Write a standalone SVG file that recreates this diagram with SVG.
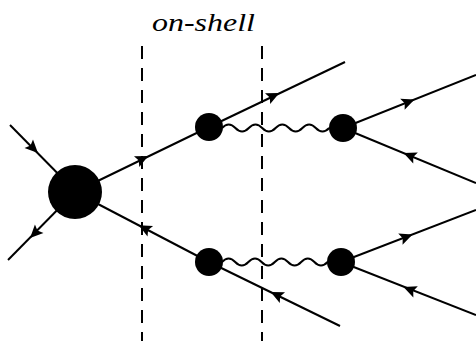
<svg xmlns="http://www.w3.org/2000/svg" xmlns:xlink="http://www.w3.org/1999/xlink" width="476" height="341" viewBox="0 0 476 341">
<style>
.ln{stroke:#000;stroke-width:2;fill:none}
.dash{stroke:#000;stroke-width:2;fill:none;stroke-dasharray:13 9}
.blob{fill:#000}
.lbl{font-family:"Liberation Serif",serif;font-style:italic;font-size:26px;fill:#000}
</style>
<defs>
<path id="ah" d="M7,0 L-6,-6 L-3.5,0 L-6,6 Z" fill="#000"/>
</defs>
<rect width="476" height="341" fill="#fff"/>
<g id="connectors">
<line class="ln" x1="10" y1="125" x2="75" y2="191"/>
<line class="ln" x1="8" y1="260" x2="75" y2="192"/>
<line class="ln" x1="75" y1="192" x2="209" y2="127"/>
<line class="ln" x1="75" y1="192" x2="209" y2="262"/>
<line class="ln" x1="209" y1="127" x2="345" y2="62"/>
<line class="ln" x1="209" y1="262" x2="340" y2="326"/>
<line class="ln" x1="343" y1="128" x2="476" y2="75"/>
<line class="ln" x1="343" y1="128" x2="476" y2="183"/>
<line class="ln" x1="341" y1="262" x2="476" y2="210"/>
<line class="ln" x1="341" y1="262" x2="476" y2="315"/>
<path class="ln" d="M222,128 q6.7,-7 13.4,0 t13.4,0 t13.4,0 t13.4,0 t13.4,0 t13.4,0 t13.4,0 t13.4,0"/>
<path class="ln" d="M222,262 q6.6,-7 13.2,0 t13.2,0 t13.2,0 t13.2,0 t13.2,0 t13.2,0 t13.2,0 t13.2,0"/>
<use xlink:href="#ah" transform="translate(33,148) rotate(45)"/>
<use xlink:href="#ah" transform="translate(35,233) rotate(134.6)"/>
<use xlink:href="#ah" transform="translate(142,159) rotate(-25.9)"/>
<use xlink:href="#ah" transform="translate(273,96) rotate(-25.5)"/>
<use xlink:href="#ah" transform="translate(145,228.5) rotate(207.6)"/>
<use xlink:href="#ah" transform="translate(277,295) rotate(206)"/>
<use xlink:href="#ah" transform="translate(408,102) rotate(-21.7)"/>
<use xlink:href="#ah" transform="translate(410,155.7) rotate(202.5)"/>
<use xlink:href="#ah" transform="translate(406,237) rotate(-21)"/>
<use xlink:href="#ah" transform="translate(410,289.6) rotate(201.8)"/>
</g>
<g id="cuts">
<line class="dash" x1="142" y1="46" x2="142" y2="341"/>
<line class="dash" x1="262" y1="46" x2="262" y2="341"/>
</g>
<g id="main-blob"><circle class="blob" cx="75" cy="192" r="27"/></g>
<g id="blob-ul"><circle class="blob" cx="209" cy="127" r="14"/></g>
<g id="blob-ur"><circle class="blob" cx="343" cy="128" r="14"/></g>
<g id="blob-ll"><circle class="blob" cx="209" cy="262" r="14"/></g>
<g id="blob-lr"><circle class="blob" cx="341" cy="262" r="14"/></g>
<g id="label"><text class="lbl" x="152" y="31" textLength="103" lengthAdjust="spacingAndGlyphs">on-shell</text></g>
</svg>
